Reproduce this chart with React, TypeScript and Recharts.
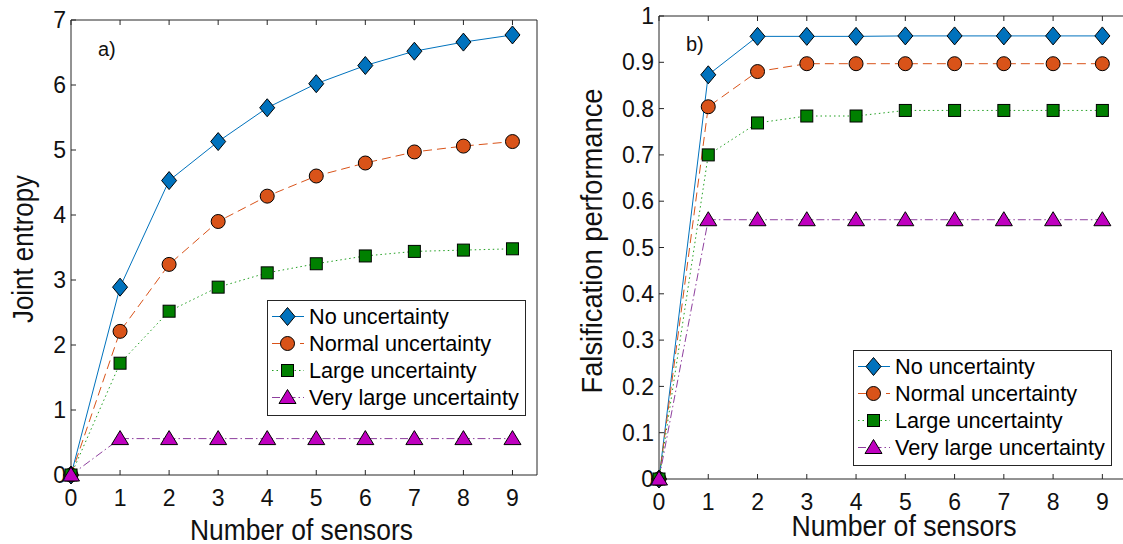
import React from 'react'
import { LineChart, Line, XAxis, YAxis, Legend } from 'recharts'

// number of sensors on the x axis
const sensors = [0, 1, 2, 3, 4, 5, 6, 7, 8, 9]

const seriesNames = ['No uncertainty', 'Normal uncertainty', 'Large uncertainty', 'Very large uncertainty']

// a) joint entropy
const entropyNone = [0, 2.89, 4.53, 5.13, 5.65, 6.02, 6.3, 6.52, 6.66, 6.77]
const entropyNormal = [0, 2.21, 3.24, 3.9, 4.29, 4.6, 4.8, 4.97, 5.06, 5.13]
const entropyLarge = [0, 1.72, 2.52, 2.89, 3.11, 3.25, 3.37, 3.44, 3.46, 3.48]
const entropyVeryLarge = [0, 0.56, 0.56, 0.56, 0.56, 0.56, 0.56, 0.56, 0.56, 0.56]
const entropyTicks = [0, 1, 2, 3, 4, 5, 6, 7]

// b) falsification performance
const perfNone = [0, 0.873, 0.956, 0.956, 0.956, 0.957, 0.957, 0.957, 0.957, 0.957]
const perfNormal = [0, 0.804, 0.88, 0.897, 0.897, 0.897, 0.897, 0.897, 0.897, 0.897]
const perfLarge = [0, 0.7, 0.769, 0.784, 0.784, 0.796, 0.796, 0.796, 0.796, 0.796]
const perfVeryLarge = [0, 0.56, 0.56, 0.56, 0.56, 0.56, 0.56, 0.56, 0.56, 0.56]
const perfTicks = [0, 0.1, 0.2, 0.3, 0.4, 0.5, 0.6, 0.7, 0.8, 0.9, 1]

const FONT = '"Liberation Sans", Arial, Helvetica, sans-serif'
const INK = '#262626'

type Shape = 'diamond' | 'circle' | 'square' | 'triangle'

const series: { key: string; stroke: string; fill: string; dash?: string; shape: Shape }[] = [
  { key: 'none', stroke: '#0072BD', fill: '#0072BD', shape: 'diamond' },
  { key: 'normal', stroke: '#D95319', fill: '#D95319', dash: '9 5', shape: 'circle' },
  { key: 'large', stroke: '#22A022', fill: '#008000', dash: '1.5 3', shape: 'square' },
  { key: 'veryLarge', stroke: '#8E3F9E', fill: '#BF00BF', dash: '8 3 1.5 3', shape: 'triangle' },
]

const entropyRows = sensors.map((n, i) => ({
  n,
  none: entropyNone[i],
  normal: entropyNormal[i],
  large: entropyLarge[i],
  veryLarge: entropyVeryLarge[i],
}))

const perfRows = sensors.map((n, i) => ({
  n,
  none: perfNone[i],
  normal: perfNormal[i],
  large: perfLarge[i],
  veryLarge: perfVeryLarge[i],
}))

function Marker({ shape, fill, cx, cy }: { shape: Shape; fill: string; cx: number; cy: number }) {
  const common = { fill, stroke: '#000', strokeWidth: 1 }
  switch (shape) {
    case 'diamond':
      return <polygon points={`${cx},${cy - 9} ${cx + 7.5},${cy} ${cx},${cy + 9} ${cx - 7.5},${cy}`} {...common} />
    case 'circle':
      return <circle cx={cx} cy={cy} r={7} {...common} />
    case 'square':
      return <rect x={cx - 6} y={cy - 6} width={12} height={12} {...common} />
    default:
      return <polygon points={`${cx},${cy - 8} ${cx + 8.5},${cy + 6} ${cx - 8.5},${cy + 6}`} {...common} />
  }
}

function LegendBox() {
  return (
    <div
      style={{
        width: 257,
        height: 112,
        border: `1px solid ${INK}`,
        background: '#fff',
        fontFamily: FONT,
        fontSize: 21.7,
        color: '#000',
        paddingTop: 2,
        boxSizing: 'content-box',
      }}
    >
      {series.map((s, i) => (
        <div key={s.key} style={{ display: 'flex', alignItems: 'center', height: 27, whiteSpace: 'nowrap' }}>
          <svg width={40} height={27} style={{ flex: 'none' }}>
            <line x1={4} x2={36} y1={13.5} y2={13.5} stroke={s.stroke} strokeDasharray={s.dash} />
            <Marker shape={s.shape} fill={s.fill} cx={19.5} cy={13.5} />
          </svg>
          <span style={{ marginLeft: 1 }}>{seriesNames[i]}</span>
        </div>
      ))}
    </div>
  )
}

type PanelProps = {
  rows: typeof entropyRows
  yDomain: [number, number]
  yTicks: number[]
  width: number
  margin: { top: number; right: number; bottom: number; left: number }
  yAxisWidth: number
  xAxisHeight: number
  xTickMargin: number
  legendPos: { left: number; top: number }
}

function Panel({ rows, yDomain, yTicks, width, margin, yAxisWidth, xAxisHeight, xTickMargin, legendPos }: PanelProps) {
  const tickStyle = { fill: '#111', fontSize: 23, fontFamily: FONT }
  return (
    <LineChart width={width} height={544} data={rows} margin={margin}>
      <XAxis
        dataKey="n"
        type="number"
        domain={[0, 9.5]}
        ticks={sensors}
        height={xAxisHeight}
        stroke={INK}
        tickSize={-5}
        tickMargin={xTickMargin}
        tick={tickStyle}
      />
      <XAxis
        xAxisId="top"
        orientation="top"
        dataKey="n"
        type="number"
        domain={[0, 9.5]}
        ticks={sensors}
        height={1}
        stroke={INK}
        tickSize={-5}
        tickFormatter={() => ''}
      />
      <YAxis
        type="number"
        domain={yDomain}
        ticks={yTicks}
        width={yAxisWidth}
        stroke={INK}
        tickSize={-5}
        tickMargin={10}
        tick={tickStyle}
      />
      <YAxis
        yAxisId="right"
        orientation="right"
        type="number"
        domain={yDomain}
        ticks={yTicks}
        width={1}
        stroke={INK}
        tickSize={-5}
        tickFormatter={() => ''}
      />
      <Legend
        layout="vertical"
        align="center"
        verticalAlign="middle"
        wrapperStyle={{ left: legendPos.left, top: legendPos.top, width: 259, height: 114 }}
        content={() => <LegendBox />}
      />
      {series.map((s, i) => (
        <Line
          key={s.key}
          dataKey={s.key}
          name={seriesNames[i]}
          type="linear"
          stroke={s.stroke}
          strokeWidth={1}
          strokeDasharray={s.dash}
          isAnimationActive={false}
          activeDot={false}
          dot={(p: any) => <Marker key={`${s.key}-${p.index}`} shape={s.shape} fill={s.fill} cx={p.cx} cy={p.cy} />}
        />
      ))}
    </LineChart>
  )
}

const titleStyle = { fontFamily: FONT, fontSize: 29, fill: '#111' }

export default function App() {
  return (
    <div style={{ position: 'absolute', left: 0, top: 0, width: 1123, height: 544, overflow: 'hidden', background: '#fff' }}>
      <div style={{ position: 'absolute', left: 0, top: 0 }}>
        <Panel
          rows={entropyRows}
          yDomain={[0, 7]}
          yTicks={entropyTicks}
          width={560}
          margin={{ top: 19, right: 22, bottom: 0, left: 0 }}
          yAxisWidth={71}
          xAxisHeight={69}
          xTickMargin={20}
          legendPos={{ left: 267, top: 300 }}
        />
      </div>
      <div style={{ position: 'absolute', left: 560, top: 0 }}>
        <Panel
          rows={perfRows}
          yDomain={[0, 1]}
          yTicks={perfTicks}
          width={580}
          margin={{ top: 15, right: 12, bottom: 0, left: 0 }}
          yAxisWidth={99}
          xAxisHeight={65}
          xTickMargin={20}
          legendPos={{ left: 293, top: 350 }}
        />
      </div>
      <svg width={1123} height={544} style={{ position: 'absolute', left: 0, top: 0, pointerEvents: 'none' }}>
        <text x={98} y={56} fontFamily={FONT} fontSize={20} fill="#111">a)</text>
        <text x={686} y={51} fontFamily={FONT} fontSize={20} fill="#111">b)</text>
        <text x={301.5} y={540} textAnchor="middle" textLength={223} lengthAdjust="spacingAndGlyphs" {...titleStyle}>
          Number of sensors
        </text>
        <text x={904} y={536} textAnchor="middle" textLength={225} lengthAdjust="spacingAndGlyphs" {...titleStyle}>
          Number of sensors
        </text>
        <text
          x={33}
          y={249}
          transform="rotate(-90 33 249)"
          textAnchor="middle"
          textLength={148}
          lengthAdjust="spacingAndGlyphs"
          {...titleStyle}
        >
          Joint entropy
        </text>
        <text
          x={602}
          y={241}
          transform="rotate(-90 602 241)"
          textAnchor="middle"
          textLength={305}
          lengthAdjust="spacingAndGlyphs"
          {...titleStyle}
        >
          Falsification performance
        </text>
      </svg>
    </div>
  )
}
